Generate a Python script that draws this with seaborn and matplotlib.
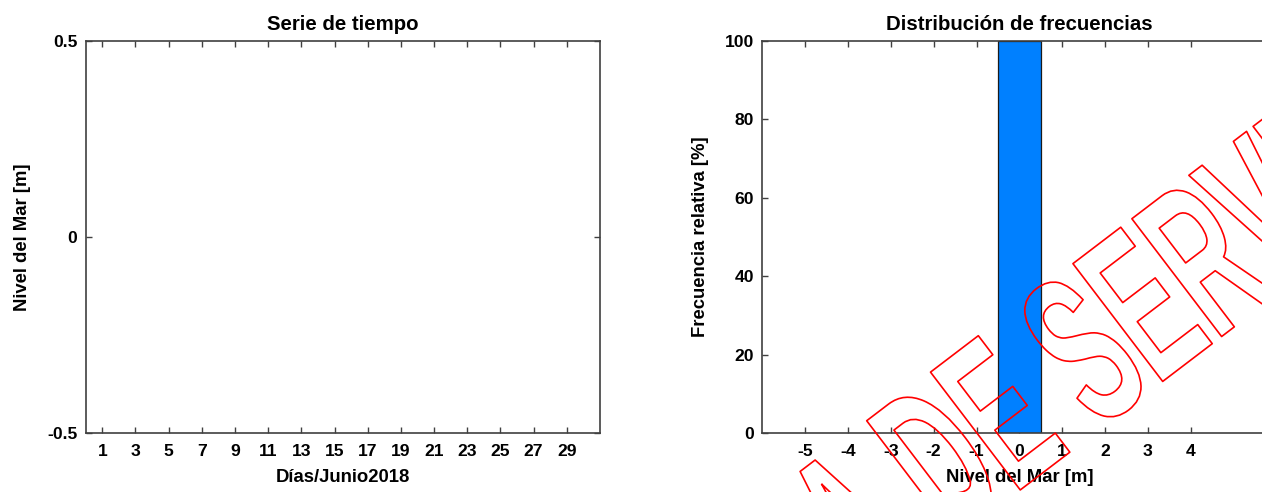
import matplotlib
matplotlib.use("Agg")
import matplotlib.pyplot as plt
import seaborn as sns
import pandas as pd
from matplotlib import patheffects
from matplotlib.transforms import Affine2D

# ---------------- data ----------------
days = []                      # time series is empty (no data in June 2018)
sea_level = []
day_ticks = list(range(1, 30, 2))
level_ticks = [-0.5, 0, 0.5]
level_tick_labels = ["-0.5", "0", "0.5"]

hist_bin_centers = [0.0]       # relative frequency histogram
hist_rel_freq = [100.0]
hist_xticks = [-5, -4, -3, -2, -1, 0, 1, 2, 3, 4]
freq_ticks = [0, 20, 40, 60, 80, 100]

watermark_text = "FUERA DE SERVICIO"

# ---------------- style ----------------
sns.set_theme(style="ticks")
plt.rcParams["font.family"] = ["Liberation Sans", "DejaVu Sans"]
plt.rcParams["font.weight"] = "bold"
plt.rcParams["axes.unicode_minus"] = False
plt.rcParams["text.color"] = "black"
plt.rcParams["axes.labelcolor"] = "black"
plt.rcParams["xtick.labelcolor"] = "black"
plt.rcParams["ytick.labelcolor"] = "black"

SPINE = "#404040"
TICK_FS = 12.6
LABEL_FS = 13.3
TITLE_FS = 14.7

fig = plt.figure(figsize=(12.62, 4.92), dpi=100)
ax1 = fig.add_axes([0.0679, 0.1193, 0.4075, 0.798])
ax2 = fig.add_axes([0.6040, 0.1193, 0.4075, 0.798])


def style_axes(ax):
    for s in ax.spines.values():
        s.set_visible(True)
        s.set_color(SPINE)
        s.set_linewidth(1.2)
    ax.tick_params(which="both", direction="in", length=4, width=1,
                   color=SPINE, top=True, right=True,
                   labelsize=TICK_FS, labelcolor="black")
    ax.tick_params(axis="x", pad=8)
    ax.tick_params(axis="y", pad=6)
    for lab in ax.get_xticklabels() + ax.get_yticklabels():
        lab.set_fontweight("bold")
        lab.set_color("black")


# ---- left: time series ----
ts = pd.DataFrame({"dia": pd.Series(days, dtype=float),
                   "nivel": pd.Series(sea_level, dtype=float)})
ax1.plot(ts["dia"], ts["nivel"], color="#0080FF")
ax1.set_xlim(0, 31)
ax1.set_ylim(-0.5, 0.5)
ax1.set_xticks(day_ticks)
ax1.set_xticklabels([str(d) for d in day_ticks])
ax1.set_yticks(level_ticks)
ax1.set_yticklabels(level_tick_labels)
ax1.set_title("Serie de tiempo", fontsize=TITLE_FS, fontweight="bold",
              color="black", pad=7.5)
ax1.set_xlabel("Días/Junio2018", fontsize=LABEL_FS, fontweight="bold",
               color="black", labelpad=7)
ax1.set_ylabel("Nivel del Mar [m]", fontsize=LABEL_FS, fontweight="bold",
               color="black", labelpad=11.5)
style_axes(ax1)

# ---- right: histogram ----
hist = pd.DataFrame({"nivel": hist_bin_centers, "freq": hist_rel_freq})
sns.histplot(data=hist, x="nivel", weights="freq", discrete=True,
             color="#0080FF", edgecolor="#1a1a1a", linewidth=0.9,
             alpha=1, ax=ax2)
ax2.set_xlim(-6, 6)
ax2.set_ylim(0, 100)
ax2.set_xticks(hist_xticks)
ax2.set_xticklabels([str(v) for v in hist_xticks])
ax2.set_yticks(freq_ticks)
ax2.set_yticklabels([str(v) for v in freq_ticks])
ax2.set_title("Distribución de frecuencias", fontsize=TITLE_FS, fontweight="bold",
              color="black", pad=7.5)
ax2.set_xlabel("Nivel del Mar [m]", fontsize=LABEL_FS, fontweight="bold",
               color="black", labelpad=7)
ax2.set_ylabel("Frecuencia relativa [%]", fontsize=LABEL_FS, fontweight="bold",
               color="black", labelpad=11.5)
style_axes(ax2)


# ---- watermark: outlined, condensed red text ----
class CondensedOutline(patheffects.AbstractPathEffect):
    def __init__(self, sx, linewidth, color):
        super().__init__()
        self.sx = sx
        self.lw = linewidth
        self.color = color

    def draw_path(self, renderer, gc, tpath, affine, rgbFace=None):
        gc0 = renderer.new_gc()
        gc0.copy_properties(gc)
        gc0.set_alpha(1.0)
        gc0.set_foreground(self.color)
        gc0.set_linewidth(self.lw)
        renderer.draw_path(gc0, tpath, Affine2D().scale(self.sx, 1.0) + affine, None)
        gc0.restore()


fig.text(0.4952, -0.6079, watermark_text, transform=fig.transFigure,
         fontsize=155, fontweight="bold", family=["Liberation Sans", "DejaVu Sans"],
         color="red", rotation=37.3, rotation_mode="anchor",
         ha="left", va="baseline", zorder=20,
         path_effects=[CondensedOutline(0.516, 1.2, "red")])

fig.savefig("out.png", dpi=100)
